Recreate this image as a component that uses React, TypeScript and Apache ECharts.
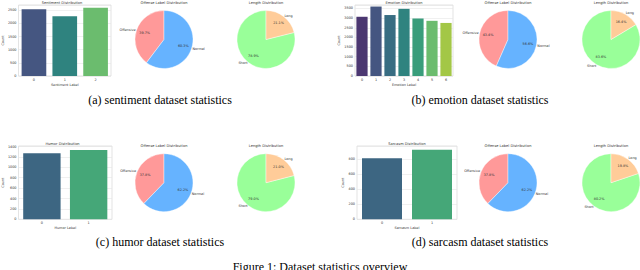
import React, { useEffect, useRef } from "react";
import * as echarts from "echarts";

// ---- data ----
const sentimentLabels = ["0", "1", "2"];
const sentimentCounts = [2540, 2270, 2600];
const emotionLabels = ["0", "1", "2", "3", "4", "5", "6"];
const emotionCounts = [3070, 3600, 3160, 3480, 2980, 2860, 2750];
const humorLabels = ["0", "1"];
const humorCounts = [1270, 1335];
const sarcasmLabels = ["0", "1"];
const sarcasmCounts = [813, 924];

const pie1Names = ["Offensive", "Normal"];
const pie1Sentiment = [39.7, 60.3];
const pie1Emotion = [43.4, 56.6];
const pie1Humor = [37.8, 62.2];
const pie1Sarcasm = [37.8, 62.2];

const pie2Names = ["Short", "Long"];
const pie2Sentiment = [78.9, 21.1];
const pie2Emotion = [83.6, 16.4];
const pie2Humor = [79.0, 21.0];
const pie2Sarcasm = [80.2, 19.8];

const barTitles = ["Sentiment Distribution", "Emotion Distribution", "Humor Distribution", "Sarcasm Distribution"];
const pie1Title = "Offense Label Distribution";
const pie2Title = "Length Distribution";

const captions = [
  "(a) sentiment dataset statistics",
  "(b) emotion dataset statistics",
  "(c) humor dataset statistics",
  "(d) sarcasm dataset statistics",
];
const figureCaption = "Figure 1: Dataset statistics overview";

// ---- styles ----
const barColors2 = ["#3d6682", "#45a778"];
const barColors3 = ["#455681", "#2f837f", "#6bbc6e"];
const barColors7 = ["#4b3771", "#455681", "#386d82", "#2f837f", "#399d7b", "#6bbc6e", "#a3c746"];
const pie1Colors = ["#ff9999", "#66b3ff"];
const pie2Colors = ["#99ff99", "#ffcc99"];
const FONT = "DejaVu Sans";
const SMALL = 3.4;

export default function App() {
  const ref = useRef<HTMLDivElement>(null);
  useEffect(() => {
    if (!ref.current) return;
    const chart = echarts.init(ref.current, undefined, { renderer: "svg" });

    const bars = [
      { labels: sentimentLabels, counts: sentimentCounts, colors: barColors3, name: "Sentiment Label", max: 2700, interval: 500, grid: { left: 13, top: 5, width: 98, height: 71 } },
      { labels: emotionLabels, counts: emotionCounts, colors: barColors7, name: "Emotion Label", max: 3680, interval: 500, grid: { left: 355, top: 5, width: 98, height: 71 } },
      { labels: humorLabels, counts: humorCounts, colors: barColors2, name: "Humor Label", max: 1410, interval: 200, grid: { left: 13, top: 146, width: 99, height: 73.3 } },
      { labels: sarcasmLabels, counts: sarcasmCounts, colors: barColors2, name: "Sarcasm Label", max: 975, interval: 200, grid: { left: 357, top: 146, width: 100, height: 73.3 } },
    ];

    const pies = [
      { c: [164, 39.5], p1: pie1Sentiment, p2: pie2Sentiment, c2: [266, 39.5] },
      { c: [508, 39.5], p1: pie1Emotion, p2: pie2Emotion, c2: [611, 39.5] },
      { c: [164, 182.7], p1: pie1Humor, p2: pie2Humor, c2: [266, 182.7] },
      { c: [508, 182.7], p1: pie1Sarcasm, p2: pie2Sarcasm, c2: [611, 182.7] },
    ];

    const R = 29;
    const pieSeries: any[] = [];
    const makePie = (center: number[], names: string[], vals: number[], colors: string[]) => {
      pieSeries.push({
        type: "pie",
        center,
        radius: [0, R],
        startAngle: 90,
        clockwise: false,
        avoidLabelOverlap: false,
        silent: true,
        itemStyle: { borderColor: "#fff", borderWidth: 0.4 },
        label: { show: true, position: "outside", formatter: "{b}", fontSize: SMALL, fontFamily: FONT, color: "#333", distanceToLabelLine: 0 },
        labelLine: { show: false, length: 1, length2: 0 },
        data: names.map((n, i) => ({ name: n, value: vals[i], itemStyle: { color: colors[i] } })),
      });
      pieSeries.push({
        type: "pie",
        center,
        radius: [0, R * 1.2],
        startAngle: 90,
        clockwise: false,
        avoidLabelOverlap: false,
        silent: true,
        itemStyle: { color: "rgba(0,0,0,0)", borderWidth: 0 },
        label: { show: true, position: "inside", formatter: (p: any) => p.percent.toFixed(1) + "%", fontSize: SMALL, fontFamily: FONT, color: "#333" },
        labelLine: { show: false },
        data: names.map((n, i) => ({ name: n, value: vals[i] })),
      });
    };
    pies.forEach((p) => {
      makePie(p.c, pie1Names, p.p1, pie1Colors);
      makePie(p.c2, pie2Names, p.p2, pie2Colors);
    });

    const titles: any[] = [];
    const addTitle = (text: string, x: number, y: number, size: number, family: string, color: string) =>
      titles.push({ text, left: x, top: y, textAlign: "center", padding: 0, textStyle: { fontSize: size, fontFamily: family, color, fontWeight: "normal" } });
    bars.forEach((b, i) => addTitle(barTitles[i], b.grid.left + b.grid.width / 2, b.grid.top - 4.5, 3.6, FONT, "#333"));
    pies.forEach((p) => {
      addTitle(pie1Title, p.c[0], p.c[1] - 38.5, 3.6, FONT, "#333");
      addTitle(pie2Title, p.c2[0], p.c2[1] - 38.5, 3.6, FONT, "#333");
    });
    const capFont = "Liberation Serif";
    addTitle(captions[0], 160, 94, 12, capFont, "#000");
    addTitle(captions[1], 480, 94, 12, capFont, "#000");
    addTitle(captions[2], 160, 236, 12, capFont, "#000");
    addTitle(captions[3], 480, 236, 12, capFont, "#000");
    addTitle(figureCaption, 320, 261, 12, capFont, "#000");

    chart.setOption({
      animation: false,
      backgroundColor: "#fff",
      title: titles,
      grid: bars.map((b) => ({ ...b.grid, show: true, borderColor: "#d0d0d0", borderWidth: 0.6, backgroundColor: "#fff", containLabel: false })),
      xAxis: bars.map((b, i) => ({
        type: "category",
        gridIndex: i,
        data: b.labels,
        name: b.name,
        nameLocation: "middle",
        nameGap: 7,
        nameTextStyle: { fontSize: SMALL, fontFamily: FONT, color: "#333" },
        axisLine: { show: false },
        axisTick: { show: false },
        axisLabel: { fontSize: SMALL, fontFamily: FONT, color: "#333", margin: 2 },
      })),
      yAxis: bars.map((b, i) => ({
        type: "value",
        gridIndex: i,
        min: 0,
        max: b.max,
        interval: b.interval,
        name: "Count",
        nameLocation: "middle",
        nameGap: 10,
        nameTextStyle: { fontSize: SMALL, fontFamily: FONT, color: "#333" },
        axisLine: { show: false },
        axisTick: { show: false },
        axisLabel: { fontSize: SMALL, fontFamily: FONT, color: "#333", margin: 2, formatter: (v: number) => (v % b.interval === 0 ? String(v) : "") },
        splitLine: { lineStyle: { color: "#e6e6e6", width: 0.6 } },
      })),
      series: [
        ...bars.map((b, i) => ({
          type: "bar",
          xAxisIndex: i,
          yAxisIndex: i,
          barCategoryGap: "20%",
          silent: true,
          data: b.counts.map((v, j) => ({ value: v, itemStyle: { color: b.colors[j] } })),
        })),
        ...pieSeries,
      ],
    });
    return () => chart.dispose();
  }, []);
  return <div ref={ref} style={{ position: "fixed", left: 0, top: 0, width: 640, height: 270 }} />;
}
